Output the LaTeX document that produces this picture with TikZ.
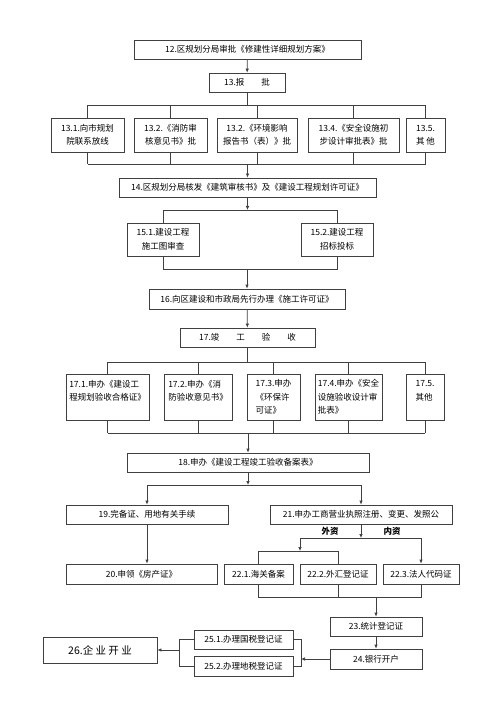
\documentclass[tikz,border=0pt]{standalone}
\usepackage{fontspec}
\setmainfont{Noto Sans CJK SC}
\usetikzlibrary{arrows.meta}
\begin{document}
\begin{tikzpicture}[x=1pt,y=-1pt,
    box/.style 2 args={draw=black!75, line width=0.7pt, inner sep=0pt,
      minimum width=#1, minimum height=#2, align=center,
      font=\fontsize{8.5}{13.5}\selectfont},
    lbl/.style={inner sep=0pt, font=\fontsize{8.5}{10}\selectfont\bfseries},
    link/.style={draw=black!75, line width=0.7pt},
    >={Latex[length=4pt,width=3.5pt]}]
  \useasboundingbox (0,0) rectangle (500,708);
  % boxes
  \node[box={227pt}{19pt}] (12) at (247.5,49.5) {12.区规划分局审批《修建性详细规划方案》};
  \node[box={76pt}{19pt}] (13) at (247,82.5) {13.报\hspace{2em}批};
  \node[box={73pt}{34pt}] (131) at (87.5,135) {13.1.向市规划\\院联系放线};
  \node[box={73pt}{34pt}] (132) at (170.5,135) {13.2.《消防审\\核意见书》批};
  \node[box={80pt}{34pt}] (133) at (257,135) {13.2.《环境影响\\报告书（表）》批};
  \node[box={91pt}{34pt}] (134) at (353.5,135) {13.4.《安全设施初\\步设计审批表》批};
  \node[box={39pt}{34pt}] (135) at (425.5,135) {13.5.\\其 他};
  \node[box={257pt}{19pt}] (14) at (247.5,187.5) {14.区规划分局核发《建筑审核书》及《建设工程规划许可证》};
  \node[box={72pt}{33pt}] (151) at (163,239.5) {15.1.建设工程\\施工图审查};
  \node[box={72pt}{33pt}] (152) at (337,239.5) {15.2.建设工程\\招标投标};
  \node[box={196pt}{20pt}] (16) at (247,299) {16.向区建设和市政局先行办理《施工许可证》};
  \node[box={135pt}{19pt}] (17) at (247.5,337.5) {17.竣\hspace{2em}工\hspace{2em}验\hspace{2em}收};
  \node[box={83pt}{46pt}, align=left] (171) at (107.5,397) {17.1.申办《建设工\\程规划验收合格证》\\\mbox{}};
  \node[box={68pt}{46pt}, align=left] (172) at (198,397) {17.2.申办《消\\防验收意见书》\\\mbox{}};
  \node[box={53pt}{46pt}, align=left] (173) at (273.5,397) {17.3.申办\\《环保许\\可证》};
  \node[box={67pt}{46pt}, align=left] (174) at (348.5,397) {17.4.申办《安全\\设施验收设计审\\批表》};
  \node[box={38pt}{46pt}, align=left] (175) at (425,397) {17.5.\\其他\\\mbox{}};
  \node[box={242pt}{19pt}] (18) at (248,462.5) {18.申办《建设工程竣工验收备案表》};
  \node[box={162pt}{19pt}] (19) at (147,514.5) {19.完备证、用地有关手续};
  \node[box={182pt}{19pt}] (21) at (361,514.5) {21.申办工商营业执照注册、变更、发照公};
  \node[lbl] (wai) at (330,531) {外资};
  \node[lbl] (nei) at (392,531) {内资};
  \node[box={151pt}{20pt}] (20) at (141.5,574) {20.申领《房产证》};
  \node[box={69pt}{20pt}] (221) at (258.5,574) {22.1.海关备案};
  \node[box={76pt}{20pt}] (222) at (338,574) {22.2.外汇登记证};
  \node[box={76pt}{20pt}] (223) at (421,574) {22.3.法人代码证};
  \node[box={92pt}{19pt}] (23) at (376,626.5) {23.统计登记证};
  \node[box={92pt}{20pt}] (24) at (376,659) {24.银行开户};
  \node[box={99pt}{19pt}] (251) at (243.5,639.5) {25.1.办理国税登记证};
  \node[box={99pt}{20pt}] (252) at (243.5,666) {25.2.办理地税登记证};
  \node[box={114pt}{26pt}, font=\fontsize{10.5}{12}\selectfont] (26) at (100,650) {26.企 业 开 业};
  % bus levels
  \coordinate (bus1) at (0,105);
  \coordinate (bus2) at (0,164);
  \coordinate (f1) at (0,210);
  \coordinate (f2) at (0,269);
  \coordinate (bus3) at (0,362);
  \coordinate (bus4) at (0,433);
  \coordinate (bus5) at (0,485);
  \coordinate (bus6) at (0,538);
  \coordinate (wz) at (300,538);
  \coordinate (brk) at (0,551);
  \coordinate (bus7) at (0,597);
  \coordinate (rb) at (301,653);
  \coordinate (lb) at (179,650);
  \begin{scope}[link]
    \draw[->] (12) -- (13);
    \draw (13) -- (13 |- bus1);
    \draw (131 |- bus1) -- (135 |- bus1);
    \draw (131 |- bus2) -- (135 |- bus2);
    \foreach \n in {131,132,133,134,135} {
      \draw (\n) -- (\n |- bus1);
      \draw (\n) -- (\n |- bus2);
    }
    \draw[->] (14 |- bus2) -- (14);
    \draw[->] (14) -- (14 |- f1);
    \draw (151) -- (151 |- f1) -- (152 |- f1) -- (152);
    \draw (151) -- (151 |- f2) -- (152 |- f2) -- (152);
    \draw[->] (16 |- f2) -- (16);
    \draw[->] (16) -- (17);
    \draw (17) -- (17 |- bus3);
    \draw (171 |- bus3) -- (175 |- bus3);
    \draw (171 |- bus4) -- (175 |- bus4);
    \foreach \n in {171,172,173,174,175} {
      \draw (\n) -- (\n |- bus3);
      \draw (\n) -- (\n |- bus4);
    }
    \draw[->] (18 |- bus4) -- (18);
    \draw[->] (18) -- (18 |- bus5);
    \draw (19 |- bus5) -- (21 |- bus5);
    \draw[->] (19 |- bus5) -- (19);
    \draw[->] (21 |- bus5) -- (21);
    \draw[->] (19) -- (19 |- 20.north);
    \draw[->] (21) -- (21 |- bus6);
    \draw (wz) -- (223 |- bus6);
    \draw[->] (wz) -- (wz |- brk);
    \draw (221) -- (221 |- brk) -- (222 |- brk) -- (222);
    \draw[->] (223 |- bus6) -- (223);
    \draw (221) -- (221 |- bus7) -- (223 |- bus7) -- (223);
    \draw (222) -- (222 |- bus7);
    \draw[->] (23 |- bus7) -- (23);
    \draw[->] (23) -- (24);
    \draw[->] (24) -- (24 -| rb);
    \draw (251) -- (251 -| rb) -- (252 -| rb) -- (252);
    \draw (251) -- (251 -| lb) -- (252 -| lb) -- (252);
    \draw[->] (lb) -- (26);
  \end{scope}
\end{tikzpicture}
\end{document}
